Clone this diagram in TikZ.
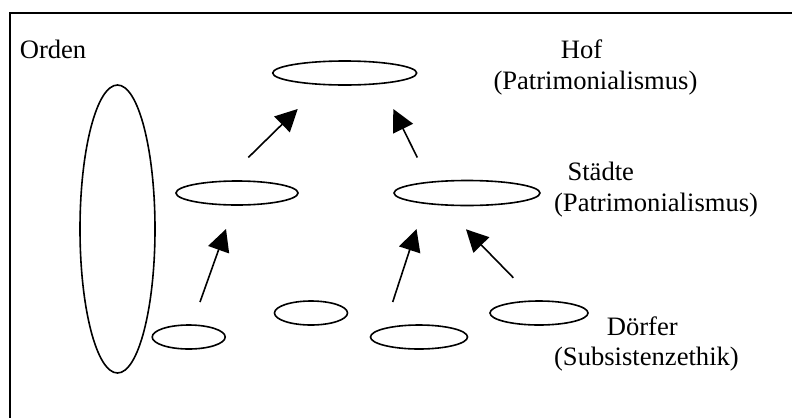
\documentclass[tikz,border=0pt]{standalone}
\usepackage{fontspec}
\setmainfont{Liberation Serif}
\usetikzlibrary{arrows.meta,shapes.geometric}
\begin{document}
\begin{tikzpicture}[x=1pt,y=-1pt,
  line width=1.6pt,
  oval/.style={draw,ellipse,inner sep=0pt,line width=1.6pt},
  lbl/.style={anchor=base west,inner sep=0pt,font=\fontsize{26.6}{31}\selectfont},
  arr/.style={-{Triangle[length=22pt,width=22pt]},line width=1.6pt}]
\useasboundingbox (0,0) rectangle (792,418);
\draw (792,13) -- (10,13) -- (10,418);
% ellipses
\node[oval,minimum width=75pt,minimum height=288pt] (orden) at (117.5,229) {};
\node[oval,minimum width=144pt,minimum height=24pt] (hof) at (344.7,73) {};
\node[oval,minimum width=122pt,minimum height=24pt] (st1) at (237,193) {};
\node[oval,minimum width=146pt,minimum height=25pt] (st2) at (467,193) {};
\node[oval,minimum width=73pt,minimum height=24pt] (d1) at (188.7,337) {};
\node[oval,minimum width=73pt,minimum height=24pt] (d2) at (311,313) {};
\node[oval,minimum width=97pt,minimum height=24pt] (d3) at (419,337) {};
\node[oval,minimum width=98pt,minimum height=24pt] (d4) at (539,313) {};
% labels
\node[lbl] (tOrden) at (19,58) {Orden};
\node[lbl] (tHof) at (560,58) {Hof};
\node[lbl] (tHofP) at (492.7,89) {(Patrimonialismus)};
\node[lbl] (tSt) at (566.7,180) {Städte};
\node[lbl] (tStP) at (553.3,211) {(Patrimonialismus)};
\node[lbl] (tD) at (606,335) {Dörfer};
\node[lbl] (tDS) at (553.3,365) {(Subsistenzethik)};
% arrow end points
\coordinate (a1s) at (248.3,157.5);
\coordinate (a1e) at (297.7,109);
\coordinate (a2s) at (417.3,157.5);
\coordinate (a2e) at (393.3,109);
\coordinate (a3s) at (200,302);
\coordinate (a3e) at (226,229);
\coordinate (a4s) at (392.7,302);
\coordinate (a4e) at (416.5,229);
\coordinate (a5s) at (513.3,277.7);
\coordinate (a5e) at (466,229.3);
\draw[arr] (a1s) -- (a1e);
\draw[arr] (a2s) -- (a2e);
\draw[arr] (a3s) -- (a3e);
\draw[arr] (a4s) -- (a4e);
\draw[arr] (a5s) -- (a5e);
\end{tikzpicture}
\end{document}
